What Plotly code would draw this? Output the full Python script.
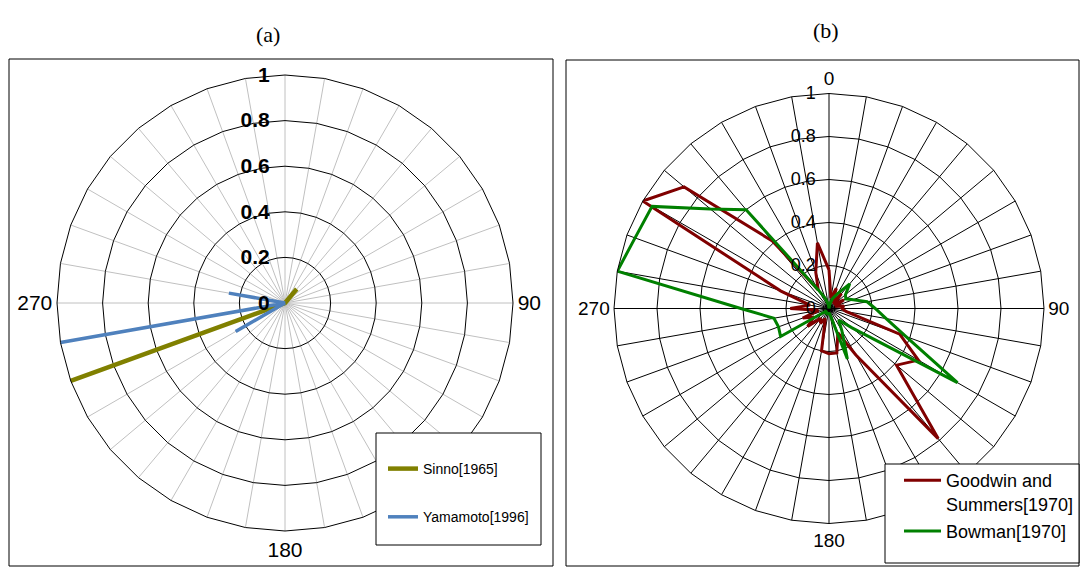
import plotly.graph_objects as go

W, H = 1081, 568

# ---------------- data ----------------
angles = ["0", "10", "20", "30", "40", "50", "60", "70", "80", "90",
          "100", "110", "120", "130", "140", "150", "160", "170", "180", "190",
          "200", "210", "220", "230", "240", "250", "260", "270", "280", "290",
          "300", "310", "320", "330", "340", "350"]

sinno = [0, 0, 0, 0, 0.08, 0, 0, 0, 0, 0,
         0, 0, 0, 0, 0, 0, 0, 0, 0, 0,
         0, 0, 0, 0, 0, 1.0, 0, 0, 0, 0,
         0, 0, 0, 0, 0, 0]

yamamoto = [0, 0, 0, 0, 0, 0, 0, 0, 0, 0,
            0, 0, 0, 0, 0, 0, 0, 0, 0, 0,
            0, 0, 0, 0, 0.25, 0, 1.0, 0, 0.25, 0,
            0, 0, 0, 0, 0, 0]

goodwin = [0.18, 0.05, 0.10, 0.03, 0.09, 0.03, 0.08, 0.03, 0.07, 0.06,
           0.08, 0.35, 0.48, 0.41, 0.79, 0.25, 0.12, 0.21, 0.21, 0.20,
           0.05, 0.08, 0.06, 0.13, 0.08, 0.13, 0.05, 0.18, 0.09, 0.24,
           1.00, 0.88, 0.41, 0.10, 0.18, 0.31]

bowman = [0.00, 0.02, 0.05, 0.08, 0.15, 0.10, 0.09, 0.12, 0.18, 0.215,
          0.27, 0.38, 0.69, 0.14, 0.07, 0.12, 0.25, 0.03, 0.02, 0.03,
          0.02, 0.03, 0.02, 0.02, 0.26, 0.25, 0.26, 0.41, 1.00, 0.96,
          0.95, 0.72, 0.60, 0.10, 0.05, 0.02]

radial_ticks = [0, 0.2, 0.4, 0.6, 0.8, 1.0]
radial_text = ["0", "0.2", "0.4", "0.6", "0.8", "1"]
labels_a = {"90": "90", "180": "180", "270": "270"}
labels_b = {"0": "0", "90": "90", "180": "180", "270": "270"}

NB = "\u00a0"


def pad(t):
    # trailing non-breaking spaces move the end-anchored labels off the spoke
    return t + NB * 2


def closed(v):
    return list(v) + [v[0]]


theta_c = closed(angles)

fig = go.Figure()
fig.add_trace(go.Scatterpolar(r=closed(sinno), theta=theta_c, mode="lines",
                              name="Sinno[1965]", subplot="polar", legend="legend",
                              legendgroup="s",
                              line=dict(color="#808000", width=4.5)))
fig.add_trace(go.Scatterpolar(r=closed(yamamoto), theta=theta_c, mode="lines",
                              name="Yamamoto[1996]", subplot="polar", legend="legend",
                              legendgroup="y",
                              line=dict(color="#4f81bd", width=3.5)))
fig.add_trace(go.Scatterpolar(r=closed(goodwin), theta=theta_c, mode="lines",
                              name="Goodwin and<br>Summers[1970]", subplot="polar2",
                              legend="legend2", legendgroup="g",
                              line=dict(color="#800000", width=3)))
fig.add_trace(go.Scatterpolar(r=closed(bowman), theta=theta_c, mode="lines",
                              name="Bowman[1970]", subplot="polar2",
                              legend="legend2", legendgroup="b",
                              line=dict(color="#008000", width=3)))


def px_x(v):
    return v / W


def px_y(v):
    return 1 - v / H


def polar_cfg(cx, cy, rad, spoke_col, labels, rfont, afont):
    return dict(
        domain=dict(x=[px_x(cx - rad), px_x(cx + rad)],
                    y=[px_y(cy + rad), px_y(cy - rad)]),
        gridshape="linear",
        bgcolor="rgba(0,0,0,0)",
        angularaxis=dict(type="category", categoryarray=angles,
                         direction="clockwise", rotation=90,
                         tickmode="array", tickvals=angles,
                         ticktext=[labels.get(a, "") for a in angles],
                         ticks="", showline=True, linecolor="black", linewidth=1,
                         showgrid=True, gridcolor=spoke_col, gridwidth=1,
                         tickfont=afont),
        radialaxis=dict(range=[0, 1], tickmode="array", tickvals=radial_ticks,
                        ticktext=[pad(t) for t in radial_text], angle=90,
                        side="counterclockwise",
                        showline=False, ticks="", showgrid=True, gridcolor="black",
                        gridwidth=1, tickfont=rfont, tickangle=90),
    )


afont_a = dict(family="Liberation Sans, Arial, sans-serif", size=21, color="black")
rfont_a = dict(family="Liberation Sans, Arial, sans-serif", size=21, color="black",
               weight="bold")
afont_b = dict(family="Liberation Sans, Arial, sans-serif", size=19, color="black")
rfont_b = dict(family="Liberation Sans, Arial, sans-serif", size=18, color="black")

shapes = [
    dict(type="rect", xref="paper", yref="paper", x0=px_x(9), x1=px_x(553),
         y0=px_y(566), y1=px_y(59), line=dict(color="black", width=1)),
    dict(type="rect", xref="paper", yref="paper", x0=px_x(566), x1=px_x(1079),
         y0=px_y(566), y1=px_y(60), line=dict(color="black", width=1)),
    dict(type="rect", xref="paper", yref="paper", x0=px_x(376), x1=px_x(541),
         y0=px_y(545), y1=px_y(433), line=dict(color="black", width=1),
         fillcolor="white", layer="above"),
    dict(type="rect", xref="paper", yref="paper", x0=px_x(885), x1=px_x(1079),
         y0=px_y(563), y1=px_y(464), line=dict(color="black", width=1),
         fillcolor="white", layer="above"),
]

fig.update_layout(
    width=W, height=H,
    margin=dict(l=0, r=0, t=0, b=0),
    paper_bgcolor="white",
    plot_bgcolor="white",
    polar=polar_cfg(285, 303, 228, "#c0c0c0", labels_a, rfont_a, afont_a),
    polar2=polar_cfg(829, 308.5, 215, "black", labels_b, rfont_b, afont_b),
    shapes=shapes,
    showlegend=True,
    legend=dict(x=px_x(383), y=px_y(453), xanchor="left", yanchor="top",
                bgcolor="rgba(0,0,0,0)", borderwidth=0,
                font=dict(family="Liberation Sans, Arial, sans-serif", size=14,
                          color="black"),
                traceorder="grouped", tracegroupgap=27, itemwidth=30),
    legend2=dict(x=px_x(899), y=px_y(462), xanchor="left", yanchor="top",
                 bgcolor="rgba(0,0,0,0)", borderwidth=0, valign="top",
                 font=dict(family="Liberation Sans, Arial, sans-serif", size=18,
                           color="black"),
                 traceorder="grouped", tracegroupgap=1, itemwidth=37),
    annotations=[
        dict(text="(a)", x=px_x(268), y=px_y(35), xref="paper", yref="paper",
             showarrow=False, xanchor="center", yanchor="middle",
             font=dict(family="Liberation Serif, serif", size=22, color="black")),
        dict(text="(b)", x=px_x(826), y=px_y(30), xref="paper", yref="paper",
             showarrow=False, xanchor="center", yanchor="middle",
             font=dict(family="Liberation Serif, serif", size=22, color="black")),
    ],
)

fig.write_html("out.html")
